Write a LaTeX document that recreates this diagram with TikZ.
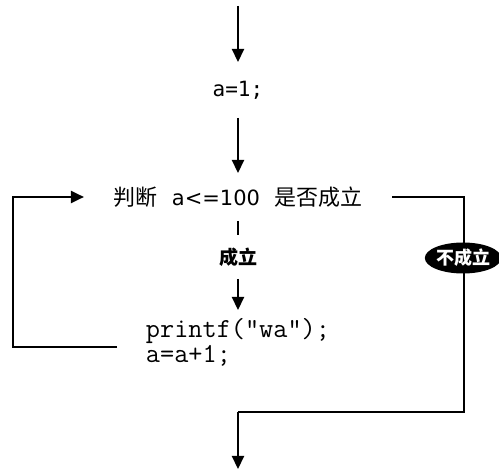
\documentclass[tikz,border=0pt]{standalone}
\usepackage{fontspec}
\newfontfamily\cjk{Noto Sans CJK SC}
\newfontfamily\latinsans{DejaVu Sans}
\newfontfamily\heavymono{DejaVu Sans Mono}
\usetikzlibrary{arrows.meta,shapes.geometric}
\tikzset{
  line/.style={line width=2.2pt,black},
  arr/.style={line, -{Triangle[length=13pt,width=12pt]}},
  plain/.style={inner sep=0pt, outer sep=0pt},
}
\begin{document}
\begin{tikzpicture}[x=1pt,y=-1pt]
\useasboundingbox (0,0) rectangle (499,470);
\coordinate (start) at (238,6);
\node[plain, minimum height=56pt, font=\heavymono\fontsize{21}{24}\selectfont] (a1) at (238,90) {a=1;};
\node[plain, minimum height=48pt, inner xsep=30pt, font=\cjk\fontsize{22}{26}\selectfont] (cond) at (238,197)
  {判断\hspace{14pt}{\latinsans\fontsize{21}{26}\selectfont a<=100}\hspace{14pt}是否成立};
\node[plain, minimum height=44pt, font=\cjk\bfseries\fontsize{19}{22}\selectfont] (yes) at (238,257) {成立};
\node[plain, minimum height=64pt, align=left, font=\ttfamily\fontsize{27.5}{25}\selectfont] (body) at (238,342)
  {printf("wa");\\a=a+1;};
\coordinate (loopstart) at (117,347);
\coordinate (rc) at (464,197);
\coordinate (bc) at (464,412);
\coordinate (lc) at (238,412);
\coordinate (endpt) at (238,469);
\draw[arr] (start) -- (a1.north);
\draw[arr] (a1.south) -- (cond.north);
\draw[line] (cond.south) -- (yes.north);
\draw[arr] (yes.south) -- (body.north);
\draw[arr] (loopstart) -- ++(-104,0) |- (cond.west);
\draw[line] (cond.east) -- (rc) -- (bc) -- (lc);
\draw[arr] (lc) -- (endpt);
\node[ellipse, fill=black, minimum width=72pt, minimum height=31pt, inner sep=0pt, font=\cjk\bfseries\fontsize{18}{20}\selectfont, text=white] (no) at (463,258) {不成立};
\end{tikzpicture}
\end{document}
